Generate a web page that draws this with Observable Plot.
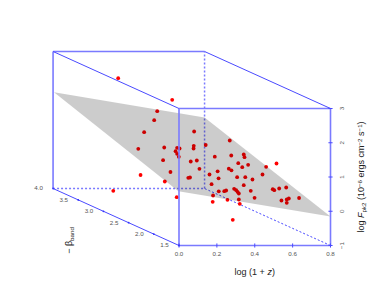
<!DOCTYPE html>
<html>
<head>
<meta charset="utf-8">
<script src="https://cdn.jsdelivr.net/npm/d3@7"></script>
<script src="https://cdn.jsdelivr.net/npm/@observablehq/plot@0.6"></script>
<style>html,body{margin:0;padding:0;background:#fff}svg{display:block}</style>
</head>
<body>
<div id="chart"></div>
<script>
// Points, on the front-face scales
const logZ = [-0.321,-0.036,-0.115,-0.131,-0.184,-0.215,-0.078,-0.084,-0.010,0.003,-0.018,-0.010,-0.001,0.080,0.078,0.077,0.141,0.268,0.189,0.062,0.094,-0.045,0.108,0.263,0.277,0.204,0.161,0.209,0.049,0.058,-0.203,-0.075,0.172,0.210,0.239,0.249,0.180,-0.012,0.256,0.276,0.342,0.346,0.313,0.365,0.334,0.460,0.515,0.307,0.350,0.441,0.388,0.342,0.566,0.529,0.495,0.503,0.379,0.291,0.302,0.309,0.316,0.399,0.316,0.541,0.580,0.569,0.569,0.634,0.321,0.178,0.284,-0.347];
const logF = [3.885,3.254,2.921,2.658,2.308,1.823,1.861,1.491,1.853,1.832,1.753,1.677,1.590,2.328,1.911,1.832,1.934,2.066,1.593,1.453,1.482,1.146,1.239,1.242,1.196,1.166,1.073,0.962,0.977,0.985,1.058,0.869,0.790,0.582,0.585,0.606,0.460,0.410,0.334,1.628,1.657,1.578,1.403,1.356,1.286,1.298,1.394,0.994,0.994,1.073,0.927,0.761,0.693,0.664,0.644,0.615,0.597,0.655,0.615,0.568,0.518,0.393,0.343,0.314,0.372,0.343,0.247,0.387,0.218,0.276,-0.250,0.597];
// Fitted plane corners
const planeX = [-0.660,0.135,0.800,-0.003];
const planeY = [3.476,2.737,-0.153,0.585];
// Axis ticks
const xTicks = [0,0.2,0.4,0.6,0.8];
const yTicks = [-1,0,1,2,3];
const betaTicks = [1.5,2,2.5,3,3.5,4];
// Box depth, as a shift of the back face
const depthX = -0.665, depthY = 1.664;
const betaMin = 1.5, betaMax = 4;

const points = logZ.map((x,i)=>({x,y:logF[i]}));
const plane = planeX.map((x,i)=>({x,y:planeY[i]}));
const seg = (x1,y1,x2,y2)=>({x1,y1,x2,y2});
const X0=0,X1=0.8,Y0=-1,Y1=3;
const faceEdges = [
  seg(X0,Y0,X1,Y0),seg(X0,Y1,X1,Y1),seg(X0,Y0,X0,Y1),seg(X1,Y0,X1,Y1),
  seg(X0+depthX,Y1+depthY,X1+depthX,Y1+depthY),seg(X0+depthX,Y0+depthY,X0+depthX,Y1+depthY)
];
const depthEdges = [
  seg(X0,Y1,X0+depthX,Y1+depthY),seg(X1,Y1,X1+depthX,Y1+depthY),seg(X0,Y0,X0+depthX,Y0+depthY)
];
const hiddenFace = [seg(X0+depthX,Y0+depthY,X1+depthX,Y0+depthY),seg(X1+depthX,Y0+depthY,X1+depthX,Y1+depthY)];
const hiddenDepth = [seg(X1,Y0,X1+depthX,Y0+depthY)];
const xTickSegs = xTicks.map(v=>seg(v,Y0-0.06,v,Y0+0.06));
const yTickSegs = yTicks.map(v=>seg(X1-0.011,v,X1+0.011,v));
const betaData = betaTicks.map(b=>{const t=(b-betaMin)/(betaMax-betaMin);return {b,x:t*depthX,y:Y0+t*depthY};});
const xLabels = xTicks.map(v=>({x:v,y:Y0,t:v.toFixed(1)}));
const yLabels = yTicks.map(v=>({x:X1,y:v,t:v<0?"\u2212"+Math.abs(v):String(v)}));
const linkOpts = o=>({x1:"x1",y1:"y1",x2:"x2",y2:"y2",...o});
const tickFont = {fontSize:6.2,fill:"#555",fontFamily:"'Liberation Sans',Arial,sans-serif"};
const titleFont = {fontSize:9,fill:"#222",fontFamily:"'Liberation Sans',Arial,sans-serif"};

const svg = Plot.plot({
  width:374,height:307,margin:0,
  style:{background:"#fff",overflow:"visible"},
  x:{type:"linear",domain:[0,0.8],range:[178.5,330],axis:null},
  y:{type:"linear",domain:[-1,3],range:[245,108],axis:null},
  marks:[
    Plot.link(hiddenFace,linkOpts({stroke:"#7a7aff",strokeWidth:1.5,strokeDasharray:"2,2"})),
    Plot.link(hiddenDepth,linkOpts({stroke:"#4a4aff",strokeWidth:1,strokeDasharray:"2,2"})),
    Plot.dot(points,{x:"x",y:"y",r:1.9,fill:"#ff0000",stroke:"none"}),
    Plot.line(plane.concat(plane[0]),{x:"x",y:"y",stroke:"none",fill:"#000",fillOpacity:0.2}),
    Plot.link(faceEdges,linkOpts({stroke:"#7a7aff",strokeWidth:1.6})),
    Plot.link(depthEdges,linkOpts({stroke:"#4a4aff",strokeWidth:1})),
    Plot.link(xTickSegs,linkOpts({stroke:"#4a4aff",strokeWidth:1})),
    Plot.link(yTickSegs,linkOpts({stroke:"#4a4aff",strokeWidth:1})),
    Plot.dot(betaData,{x:"x",y:"y",r:0.9,fill:"#3030ff"}),
    Plot.text(xLabels,{x:"x",y:"y",dy:9,text:"t",...tickFont}),
    Plot.text(yLabels,{x:"x",y:"y",dx:12,rotate:-90,text:"t",...tickFont}),
    Plot.text(betaData,{x:"x",y:"y",dx:-14.5,text:d=>d.b.toFixed(1),...tickFont}),
    Plot.text([{x:0.4,y:Y0}],{x:"x",y:"y",dy:27,text:()=>"XLABEL",...titleFont}),
    Plot.text([{x:X1,y:1}],{x:"x",y:"y",dx:31,rotate:-90,text:()=>"ZLABEL",...titleFont}),
    Plot.text([{x:-0.578,y:-0.854}],{x:"x",y:"y",rotate:-90,text:()=>"BLABEL",...titleFont})
  ]
});

function rich(key,parts){
  d3.select(svg).selectAll("text").filter(function(){return this.textContent===key;}).each(function(){
    const t=d3.select(this);t.text(null);
    parts.forEach(p=>{
      const s=t.append("tspan").text(p.t);
      if(p.i)s.attr("font-style","italic");
      if(p.sub){s.attr("font-size",6.2).attr("baseline-shift","-25%");}
      if(p.sup){s.attr("font-size",6.2).attr("baseline-shift","40%");}
    });
  });
}
rich("XLABEL",[{t:"log (1 + "},{t:"z",i:1},{t:")"}]);
rich("ZLABEL",[{t:"log "},{t:"F",i:1},{t:"pk2",sub:1},{t:" (10"},{t:"\u22126",sup:1},{t:" ergs cm"},{t:"\u22122",sup:1},{t:" s"},{t:"\u22121",sup:1},{t:")"}]);
rich("BLABEL",[{t:"\u2212 \u03B2"},{t:"band",sub:1}]);
document.getElementById("chart").appendChild(svg);
</script>
</body>
</html>
